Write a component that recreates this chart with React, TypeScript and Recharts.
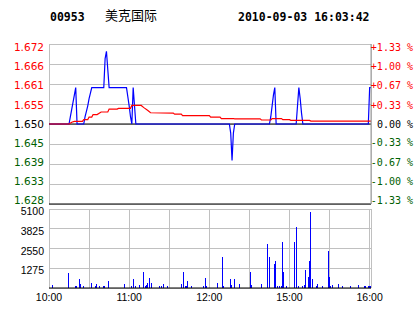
import React from 'react';
import { Bar, BarChart, CartesianGrid, ComposedChart, Line, XAxis, YAxis } from 'recharts';

const stockCode = '00953';
const stockName = '美克国际';
const stamp = '2010-09-03 16:03:42';

const prevClose = 1.65;
const priceTicks = [1.628, 1.6335, 1.639, 1.6445, 1.65, 1.6555, 1.661, 1.6665, 1.672];
const priceLabels = ['1.628', '1.633', '1.639', '1.645', '1.650', '1.655', '1.661', '1.666', '1.672'];
const pctTicks = [-1.33, -1, -0.67, -0.33, 0, 0.33, 0.67, 1, 1.33];
const volTicks = [0, 1275, 2550, 3825, 5100];
const gridMinutes = [0, 30, 60, 90, 120, 150, 180, 210, 240];
const timeTicks = [0, 60, 120, 180, 240];
const timeLabels = ['10:00', '11:00', '12:00', '15:00', '16:00'];

// [minute since 10:00 (lunch break skipped), price]
const pricePoints: [number, number][] = [
  [0, 1.65], [15, 1.65], [16, 1.652], [17, 1.654], [18, 1.656], [19, 1.658], [20, 1.66], [21, 1.65],
  [26, 1.65], [27, 1.652], [28, 1.6535], [29, 1.655], [30, 1.657], [31, 1.6585], [32, 1.66],
  [41, 1.66], [42, 1.668], [43, 1.67], [44, 1.665], [45, 1.66], [58, 1.66], [59, 1.6575],
  [60, 1.655], [61, 1.652], [62, 1.65], [63, 1.66], [64, 1.655], [65, 1.65],
  [135, 1.65], [136, 1.6475], [137, 1.64], [138, 1.6475], [139, 1.65],
  [165, 1.65], [166, 1.652], [167, 1.655], [168, 1.658], [169, 1.66], [170, 1.65],
  [185, 1.65], [186, 1.655], [187, 1.66], [188, 1.657], [189, 1.653], [190, 1.65],
  [239, 1.65], [239.5, 1.655], [240, 1.66], [241, 1.66],
];

// [minute, average price]
const avgPoints: [number, number][] = [
  [0, 1.65], [15, 1.65], [17, 1.6505], [19, 1.6507], [25, 1.6507], [26, 1.6512], [29, 1.6512],
  [30, 1.6519], [32, 1.6519], [33, 1.6526], [36, 1.6526], [39, 1.6533], [44, 1.6533], [45, 1.6541],
  [51, 1.6541], [52, 1.6543], [61, 1.6543], [62, 1.6551], [69, 1.6551], [71, 1.6545], [74, 1.6537],
  [76, 1.6531], [93, 1.653], [94, 1.6527], [99, 1.6527], [100, 1.6523], [120, 1.6523], [121, 1.6519],
  [128, 1.6519], [129, 1.6515], [138, 1.6515], [139, 1.6514], [158, 1.6514], [159, 1.6511],
  [166, 1.6511], [167, 1.6515], [174, 1.6515], [175, 1.6512], [180, 1.6512], [181, 1.651],
  [195, 1.651], [196, 1.6508], [241, 1.6508],
];

// [minute, volume]
const volumePoints: [number, number][] = [
  [3, 215], [15, 985], [20, 150], [21, 150], [23, 600], [24, 280], [26, 150], [32, 343], [35, 150],
  [36, 280], [38, 150], [41, 150], [42, 150], [45, 470], [57, 280], [62, 150], [63, 600], [65, 150],
  [68, 215], [71, 1050], [72, 150], [73, 215], [74, 343], [75, 665], [77, 343], [83, 150], [84, 150],
  [86, 280], [89, 150], [99, 280], [101, 1050], [102, 150], [103, 150], [104, 470], [107, 150],
  [116, 150], [117, 665], [118, 150],
  [126, 344], [130, 2020], [131, 150], [136, 600], [137, 215], [139, 600], [143, 280], [151, 1054],
  [152, 215], [159, 280], [164, 2860], [165, 2020], [169, 1570], [170, 1763], [171, 150], [173, 150],
  [174, 150], [175, 2990], [176, 1054], [178, 150], [184, 2990], [185, 3956], [187, 150], [190, 150],
  [191, 215], [192, 1183], [194, 731], [195, 1763], [196, 4924], [197, 600], [200, 150], [201, 280],
  [205, 150], [209, 2408], [210, 731], [211, 150], [212, 215], [217, 280], [220, 150], [226, 150],
  [232, 215], [236, 150], [237, 150], [239, 150], [240, 150], [241, 150],
];

const priceData = pricePoints.map(([t, price]) => ({ t, price }));
const avgData = avgPoints.map(([t, avg]) => ({ t, avg }));
const volumeData = volumePoints.map(([t, vol]) => ({ t, vol }));
const baseData = [
  { t: 0, base: prevClose },
  { t: 241, base: prevClose },
];

const RED = '#ff0000';
const GREEN = '#006000';
const GRID = '#c0c0c0';
const tickStep = (priceTicks[priceTicks.length - 1] - priceTicks[0]) / (priceTicks.length - 1);
const signColor = (v: number) => (v > 1e-9 ? RED : v < -1e-9 ? GREEN : '#000000');

const PriceTick = (props: any) => {
  const { x, y, index } = props;
  const value = priceTicks[index];
  const shift = ((value - prevClose) / tickStep) * 0.9;
  return (
    <text x={x} y={y + shift} dy="0.35em" textAnchor="end" fontFamily="'DejaVu Sans'" fontSize={10.5} fill={signColor(value - prevClose)}>
      {priceLabels[index]}
    </text>
  );
};

const PctTick = (props: any) => {
  const { x, y, index } = props;
  const value = pctTicks[index];
  const sign = value > 0 ? '+' : value < 0 ? '-' : '';
  const shift = (value / 0.3325) * 0.9;
  return (
    <text x={x + 42} y={y + shift} dy="0.35em" textAnchor="end" fontFamily="'DejaVu Sans Mono'" fontSize={10} fill={signColor(value)}>
      {`${sign}${Math.abs(value).toFixed(2)} %`}
    </text>
  );
};

const VolTick = (props: any) => {
  const { x, y, payload } = props;
  if (!payload.value) return <g />;
  return (
    <text x={x} y={y + 2.5} dy="0.35em" textAnchor="end" fontFamily="'Liberation Sans'" fontSize={10.5} fill="#000">
      {payload.value}
    </text>
  );
};

const fmtTime = (v: number) => {
  const i = timeTicks.indexOf(v);
  return i >= 0 ? timeLabels[i] : '';
};

export default function App() {
  return (
    <div style={{ position: 'absolute', left: 0, top: 0, width: 414, height: 314, background: '#fff' }}>
      <style>{`.recharts-bar-rectangle path, .recharts-cartesian-grid line { shape-rendering: crispEdges; }`}</style>
      <svg width={414} height={30} style={{ position: 'absolute', left: 0, top: 0 }}>
        <text x={50} y={21} fontFamily="'DejaVu Sans Mono'" fontWeight="bold" fontSize={11.5} fill="#000">
          {stockCode}
        </text>
        <text x={105} y={19.5} fontFamily="'Noto Sans CJK SC'" fontSize={13} fill="#000">
          {stockName}
        </text>
        <text x={238} y={21} fontFamily="'DejaVu Sans Mono'" fontWeight="bold" fontSize={11.5} fill="#000">
          {stamp}
        </text>
      </svg>

      <div style={{ position: 'absolute', left: 0, top: 0 }}>
        <ComposedChart width={414} height={214} margin={{ top: 44, right: 0, left: 0, bottom: 9 }}>
          <CartesianGrid stroke={GRID} strokeWidth={1} />
          <XAxis
            dataKey="t"
            type="number"
            domain={[0, 241]}
            ticks={gridMinutes}
            tick={false}
            tickLine={false}
            axisLine={{ stroke: '#000' }}
            height={1}
            allowDataOverflow
          />
          <YAxis
            type="number"
            domain={[priceTicks[0], priceTicks[priceTicks.length - 1]]}
            ticks={priceTicks}
            width={49}
            axisLine={false}
            tickLine={false}
            tickSize={3}
            tickMargin={2}
            tick={<PriceTick />}
            interval={0}
            allowDataOverflow
          />
          <YAxis
            yAxisId="pct"
            orientation="right"
            type="number"
            domain={[pctTicks[0], pctTicks[pctTicks.length - 1]]}
            ticks={pctTicks}
            width={43}
            axisLine={{ stroke: '#999' }}
            tickLine={false}
            tickSize={0}
            tickMargin={0}
            tick={<PctTick />}
            interval={0}
            allowDataOverflow
          />
          <Line data={baseData} dataKey="base" type="linear" stroke="#000" strokeWidth={1} dot={false} isAnimationActive={false} />
          <Line data={priceData} dataKey="price" type="linear" stroke="#0000ff" strokeWidth={1.2} dot={false} isAnimationActive={false} />
          <Line data={avgData} dataKey="avg" type="linear" stroke={RED} strokeWidth={1.2} dot={false} isAnimationActive={false} />
        </ComposedChart>
      </div>

      <div style={{ position: 'absolute', left: 0, top: 204 }}>
        <BarChart width={414} height={110} data={volumeData} margin={{ top: 5, right: 43, left: 0, bottom: 0 }}>
          <CartesianGrid stroke={GRID} strokeWidth={1} />
          <XAxis
            dataKey="t"
            type="number"
            domain={[0, 241]}
            ticks={gridMinutes}
            interval={0}
            height={26}
            axisLine={{ stroke: '#000' }}
            tickLine={false}
            tickSize={0}
            tickMargin={6}
            tickFormatter={fmtTime}
            tick={{ fill: '#000', fontSize: 10.5, fontFamily: "'Liberation Sans'" }}
            allowDataOverflow
          />
          <YAxis
            type="number"
            domain={[0, volTicks[volTicks.length - 1]]}
            ticks={volTicks}
            width={49}
            axisLine={false}
            tickLine={false}
            tickSize={3}
            tickMargin={2}
            tick={<VolTick />}
            interval={0}
          />
          <Bar dataKey="vol" fill="#0000ff" barSize={1} isAnimationActive={false} />
        </BarChart>
      </div>
    </div>
  );
}
